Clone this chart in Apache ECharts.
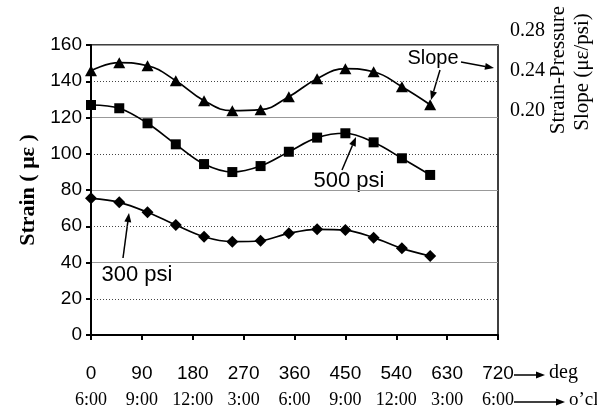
<!DOCTYPE html>
<html>
<head>
<meta charset="utf-8">
<script src="https://cdn.jsdelivr.net/npm/echarts@6/dist/echarts.min.js"></script>
<style>html,body{margin:0;padding:0;background:#fff}#c{width:597px;height:411px}</style>
</head>
<body>
<div id="c"></div>
<script>
// ---- data ----
const degrees = [0, 50, 100, 150, 200, 250, 300, 350, 400, 450, 500, 550, 600];
const strain300 = [75.4, 73.2, 67.7, 60.7, 54.2, 51.5, 52.0, 56.1, 58.3, 57.9, 53.7, 47.8, 43.6];
const strain500 = [126.9, 125.1, 116.8, 105.2, 94.3, 89.9, 93.2, 101.1, 108.9, 111.3, 106.3, 97.5, 88.3];
const slope = [0.240, 0.248, 0.245, 0.230, 0.210, 0.200, 0.201, 0.214, 0.232, 0.242, 0.239, 0.224, 0.206];
const degLabels = ['0', '90', '180', '270', '360', '450', '540', '630', '720'];
const clockLabels = ['6:00', '9:00', '12:00', '3:00', '6:00', '9:00', '12:00', '3:00', '6:00'];

const SANS = 'Liberation Sans';
const SERIF = 'Liberation Serif';

function pairs(xs, ys) { return xs.map((x, i) => [x, ys[i]]); }

function arrow(x1, y1, x2, y2) {
  const ang = Math.atan2(y2 - y1, x2 - x1);
  const L = 9, W = 3.5;
  const bx = x2 - L * Math.cos(ang), by = y2 - L * Math.sin(ang);
  const px = -Math.sin(ang), py = Math.cos(ang);
  return [
    { type: 'line', shape: { x1: x1, y1: y1, x2: bx, y2: by }, style: { stroke: '#000', lineWidth: 1.5 } },
    { type: 'polygon', shape: { points: [[x2, y2], [bx + px * W, by + py * W], [bx - px * W, by - py * W]] }, style: { fill: '#000' } }
  ];
}
function label(text, x, y, font, size, align, weight) {
  return { type: 'text', x: x, y: y, style: { text: text, fontFamily: font, fontSize: size, fontWeight: weight || 'normal', fill: '#000', align: align || 'center', verticalAlign: 'middle' } };
}

const chart = echarts.init(document.getElementById('c'));
const blackLine = { color: '#000', width: 1.7 };

const option = {
  animation: false,
  backgroundColor: '#fff',
  grid: [
    { left: 91, top: 45, width: 407, height: 290, show: true, borderColor: '#000', borderWidth: 1.5, backgroundColor: 'transparent' },
    { left: 91, top: 30.7, width: 407, height: 80, show: false }
  ],
  xAxis: [
    {
      gridIndex: 0, type: 'value', min: 0, max: 720, interval: 90,
      axisLine: { show: true, lineStyle: { color: '#000', width: 2 } },
      axisTick: { show: true, length: 5, inside: false, lineStyle: { color: '#000', width: 2 } },
      splitLine: { show: false },
      axisLabel: {
        margin: 26,
        formatter: function (v) { const i = Math.round(v / 90); return '{a|' + degLabels[i] + '}\n{b|' + clockLabels[i] + '}'; },
        rich: {
          a: { fontFamily: SANS, fontSize: 19, lineHeight: 26, color: '#000' },
          b: { fontFamily: SERIF, fontSize: 18, lineHeight: 26, color: '#000' }
        }
      }
    },
    { gridIndex: 1, type: 'value', min: 0, max: 720, show: false }
  ],
  yAxis: [
    {
      gridIndex: 0, type: 'value', min: 0, max: 160, interval: 20, position: 'left',
      axisLine: { show: true, lineStyle: { color: '#000', width: 2 } },
      axisTick: { show: true, length: 5, lineStyle: { color: '#000', width: 2 } },
      axisLabel: { fontFamily: SANS, fontSize: 19, color: '#000', margin: 9 },
      splitLine: { show: true, lineStyle: { color: '#444', type: [1, 2], width: 1 } },
      name: 'Strain ( με )', nameLocation: 'middle', nameRotate: 90, nameGap: 49,
      nameTextStyle: { fontFamily: SERIF, fontSize: 22, fontWeight: 'bold', color: '#000' }
    },
    {
      gridIndex: 0, type: 'value', min: 0, max: 160, interval: 40, position: 'left',
      axisLine: { show: false }, axisTick: { show: false }, axisLabel: { show: false },
      splitLine: { show: true, lineStyle: { color: '#999', type: 'solid', width: 1 } }
    },
    {
      gridIndex: 1, type: 'value', min: 0.20, max: 0.28, interval: 0.04, position: 'right',
      axisLine: { show: false }, axisTick: { show: false }, splitLine: { show: false },
      axisLabel: { fontFamily: SERIF, fontSize: 20, color: '#000', margin: 12, formatter: v => v.toFixed(2) }
    }
  ],
  series: [
    {
      name: '300 psi', type: 'line', xAxisIndex: 0, yAxisIndex: 0, data: pairs(degrees, strain300),
      smooth: 0.35, symbol: 'diamond', symbolSize: 12, lineStyle: blackLine, itemStyle: { color: '#000' }, z: 5
    },
    {
      name: '500 psi', type: 'line', xAxisIndex: 0, yAxisIndex: 0, data: pairs(degrees, strain500),
      smooth: 0.35, symbol: 'rect', symbolSize: 10, lineStyle: blackLine, itemStyle: { color: '#000' }, z: 5
    },
    {
      name: 'Slope', type: 'line', xAxisIndex: 1, yAxisIndex: 2, data: pairs(degrees, slope), clip: false,
      smooth: 0.45, symbol: 'triangle', symbolSize: [12, 11], lineStyle: blackLine, itemStyle: { color: '#000' }, z: 5
    }
  ],
  graphic: [
    label('Slope', 433, 58, SANS, 20),
    label('500 psi', 349, 181, SANS, 22),
    label('300 psi', 137, 275, SANS, 22),
    label('deg', 549, 373, SERIF, 20, 'left'),
    label('o\u2019cl', 569, 400, SERIF, 19, 'left'),
    { type: 'text', x: 558, y: 70, rotation: Math.PI / 2, style: { text: 'Strain-Pressure', fontFamily: SERIF, fontSize: 21, fill: '#000', align: 'center', verticalAlign: 'middle' } },
    { type: 'text', x: 582, y: 72, rotation: Math.PI / 2, style: { text: 'Slope (με/psi)', fontFamily: SERIF, fontSize: 21, fill: '#000', align: 'center', verticalAlign: 'middle' } }
  ]
    .concat(arrow(461, 62, 494, 68))
    .concat(arrow(440, 70, 431, 100))
    .concat(arrow(342, 170, 356, 137))
    .concat(arrow(123, 258, 129, 213))
    .concat(arrow(514, 375, 545, 375))
    .concat(arrow(514, 402, 565, 402))
};
chart.setOption(option);
</script>
</body>
</html>
